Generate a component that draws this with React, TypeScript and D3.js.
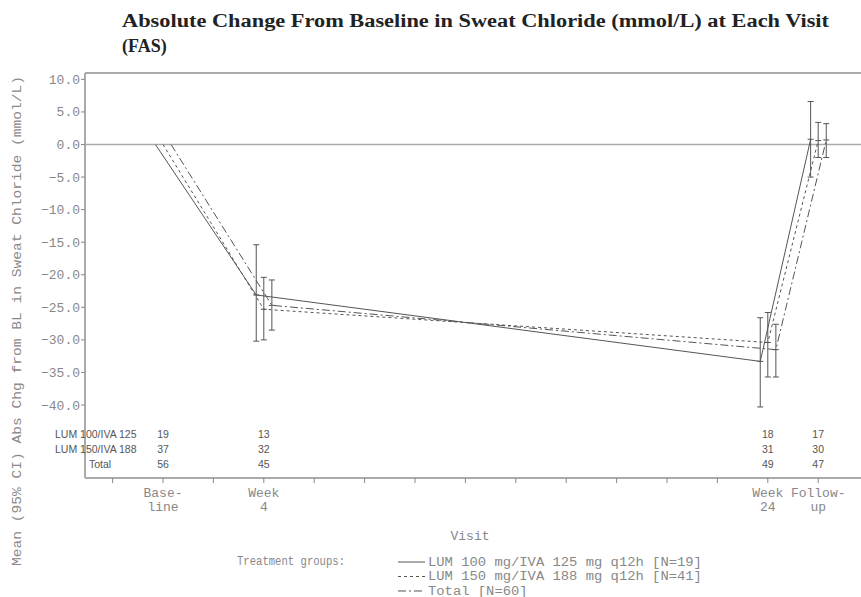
import React from "react";
import * as d3 from "d3";

// visits (x in weeks) and labels
const visitWeeks = [0, 4, 24, 26];
const visitLabels = [["Base-", "line"], ["Week", "4"], ["Week", "24"], ["Follow-", "up"]];
const xTickWeeks = d3.range(-2, 29, 2);
const yTicks = [10, 5, 0, -5, -10, -15, -20, -25, -30, -35, -40];

const groupNames = [
  "LUM 100 mg/IVA 125 mg q12h [N=19]",
  "LUM 150 mg/IVA 188 mg q12h [N=41]",
  "Total [N=60]",
];
const tableNames = ["LUM 100/IVA 125", "LUM 150/IVA 188", "Total"];

// mean and 95% CI per visit
const meanLum100 = [0, -23.1, -33.3, 0.8];
const lowLum100 = [0, -30.2, -40.3, -5.0];
const highLum100 = [0, -15.4, -26.6, 6.6];

const meanLum150 = [0, -25.3, -30.4, 0.6];
const lowLum150 = [0, -30.0, -35.7, -2.0];
const highLum150 = [0, -20.4, -25.8, 3.4];

const meanTotal = [0, -24.7, -31.5, 0.7];
const lowTotal = [0, -28.5, -35.7, -2.0];
const highTotal = [0, -20.8, -27.6, 3.2];

// subjects at each visit
const nLum100 = [19, 13, 18, 17];
const nLum150 = [37, 32, 31, 30];
const nTotal = [56, 45, 49, 47];

const W = 861;
const H = 597;
const mono = "'Liberation Mono', 'DejaVu Sans Mono', monospace";
const grey = "#888";
const ink = "#555";

export default function App() {
  const left = 85;
  const top = 73;
  const bottom = 478;

  const x = d3.scaleLinear().domain([0, 24]).range([163, 767.8]);
  const y = d3.scaleLinear().domain([0, -40]).range([144.5, 405]);

  const groups = [
    { mean: meanLum100, low: lowLum100, high: highLum100, n: nLum100, dash: "none", shift: -0.3 },
    { mean: meanLum150, low: lowLum150, high: highLum150, n: nLum150, dash: "3,3", shift: 0 },
    { mean: meanTotal, low: lowTotal, high: highTotal, n: nTotal, dash: "8,3,2,3", shift: 0.32 },
  ];

  const tableY = [438, 453, 468];

  return (
    <svg width={W} height={H} style={{ position: "absolute", left: 0, top: 0, background: "#fff" }}>
      <text x={122} y={27} textLength={707} lengthAdjust="spacingAndGlyphs"
        style={{ font: "bold 18px 'Liberation Serif', serif" }} fill="#222">
        Absolute Change From Baseline in Sweat Chloride (mmol/L) at Each Visit
      </text>
      <text x={122} y={52} style={{ font: "bold 18px 'Liberation Serif', serif" }} fill="#222">
        (FAS)
      </text>

      {/* frame */}
      <line x1={left} x2={W + 5} y1={top} y2={top} stroke="#aaa" strokeWidth={2} />
      <line x1={left} x2={left} y1={top} y2={bottom} stroke="#aaa" strokeWidth={2} />
      <line x1={left} x2={W + 5} y1={bottom} y2={bottom} stroke="#aaa" strokeWidth={2} />
      <line x1={left} x2={W + 5} y1={y(0)} y2={y(0)} stroke="#aaa" strokeWidth={1.5} />

      {/* y axis */}
      {yTicks.map((t) => (
        <g key={t}>
          <line x1={left - 4} x2={left} y1={y(t)} y2={y(t)} stroke={grey} />
          <text x={left - 5} y={y(t)} dy="0.35em" textAnchor="end"
            style={{ font: `13px ${mono}` }} fill={grey}>
            {d3.format(".1f")(t)}
          </text>
        </g>
      ))}
      <text transform={`translate(21,321) rotate(-90)`} textAnchor="middle" textLength={490}
        lengthAdjust="spacingAndGlyphs" style={{ font: `12px ${mono}` }} fill={grey}>
        Mean (95% CI) Abs Chg from BL in Sweat Chloride (mmol/L)
      </text>

      {/* x axis */}
      {xTickWeeks.map((t) => (
        <line key={t} x1={x(t)} x2={x(t)} y1={bottom} y2={bottom + 5} stroke={grey} />
      ))}
      {visitWeeks.map((w, i) => (
        <text key={w} x={x(w)} textAnchor="middle" style={{ font: `13px ${mono}` }} fill={grey}>
          <tspan x={x(w)} y={497}>{visitLabels[i][0]}</tspan>
          <tspan x={x(w)} y={511}>{visitLabels[i][1]}</tspan>
        </text>
      ))}
      <text x={470} y={540} textAnchor="middle" style={{ font: `13px ${mono}` }} fill={grey}>
        Visit
      </text>

      {/* at-risk table */}
      {tableNames.map((name, r) => (
        <text key={name} x={r < 2 ? 55 : 89} y={tableY[r]}
          style={{ font: "10.5px 'Liberation Sans', sans-serif" }} fill={ink}>
          {name}
        </text>
      ))}
      {groups.map((g, r) =>
        g.n.map((v, i) => (
          <text key={`${r}-${i}`} x={x(visitWeeks[i])} y={tableY[r]} textAnchor="middle"
            style={{ font: "10.5px 'Liberation Sans', sans-serif" }} fill={ink}>
            {v}
          </text>
        ))
      )}

      {/* series */}
      {groups.map((g, k) => {
        const sx = (i: number) => x(visitWeeks[i] + g.shift);
        const path = d3
          .line<number>()
          .x((d, i) => sx(i))
          .y((d) => y(d))(g.mean);
        return (
          <g key={k}>
            <path d={path || ""} fill="none" stroke={ink} strokeWidth={1} strokeDasharray={g.dash} />
            {g.mean.map((m, i) =>
              i === 0 ? null : (
                <g key={i} stroke={ink} strokeWidth={1}>
                  <line x1={sx(i)} x2={sx(i)} y1={y(g.high[i])} y2={y(g.low[i])} />
                  <line x1={sx(i) - 3} x2={sx(i) + 3} y1={y(g.high[i])} y2={y(g.high[i])} />
                  <line x1={sx(i) - 3} x2={sx(i) + 3} y1={y(g.low[i])} y2={y(g.low[i])} />
                  <line x1={sx(i) - 3} x2={sx(i) + 3} y1={y(m)} y2={y(m)} />
                </g>
              )
            )}
          </g>
        );
      })}

      {/* legend */}
      <text x={237} y={565} textLength={108} lengthAdjust="spacingAndGlyphs"
        style={{ font: `12px ${mono}` }} fill={grey}>
        Treatment groups:
      </text>
      {groupNames.map((name, k) => {
        const ly = 562 + k * 14.5;
        return (
          <g key={name}>
            <line x1={398} x2={425} y1={ly} y2={ly} stroke={ink} strokeDasharray={groups[k].dash} />
            <text x={428} y={ly + 3.5} textLength={name.length * 8.3} lengthAdjust="spacingAndGlyphs"
              style={{ font: `12px ${mono}` }} fill={grey}>
              {name}
            </text>
          </g>
        );
      })}
    </svg>
  );
}
